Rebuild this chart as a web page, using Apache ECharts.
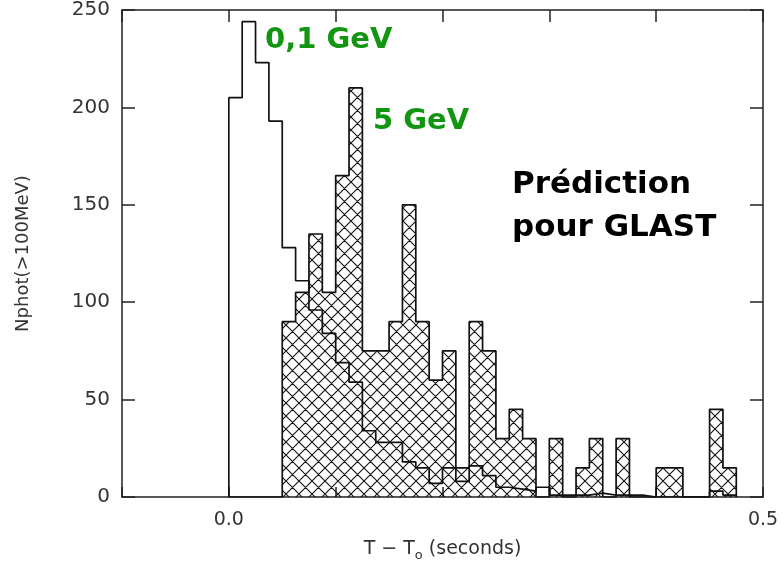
<!DOCTYPE html>
<html>
<head>
<meta charset="utf-8">
<script src="https://cdn.jsdelivr.net/npm/echarts@6/dist/echarts.min.js"></script>
<style>
  html, body { margin: 0; padding: 0; background: #fff; }
  #main { width: 782px; height: 567px; }
</style>
</head>
<body>
<div id="main"></div>
<script>
// histogram bins (seconds)
const binStart = 0;
const binWidth = 0.0125;

// counts per bin, photons above 100 MeV
const lowEnergy = [205, 244, 223, 193, 128, 111, 96, 84, 69, 59, 34, 28, 28, 18, 15, 7, 15, 8, 16, 11,
  5, 4, 3, 5, 1, 1, 1, 2, 1, 1, 1, 0, 0, 0, 0, 0, 3, 1];          // 0,1 GeV
const highEnergy = [0, 0, 0, 0, 90, 105, 135, 105, 165, 210, 75, 75, 90, 150, 90, 60, 75, 15, 90, 75,
  30, 45, 30, 0, 30, 0, 15, 30, 0, 30, 0, 0, 15, 15, 0, 0, 45, 15]; // 5 GeV

const xTickLabels = { '0': '0.0', '0.5': '0.5' };

// outline of a histogram as a list of points
function stepPath(vals) {
    var pts = [[binStart, 0]];
    vals.forEach(function (v, i) {
        var x0 = binStart + i * binWidth;
        pts.push([x0, v], [x0 + binWidth, v]);
    });
    pts.push([binStart + vals.length * binWidth, 0]);
    return pts;
}

// cross hatch tile
function hatchTile(size) {
    var c = document.createElement('canvas');
    c.width = size; c.height = size;
    var ctx = c.getContext('2d');
    ctx.strokeStyle = '#111';
    ctx.lineWidth = 1.1;
    ctx.beginPath();
    for (var k = -1; k <= 1; k++) {
        ctx.moveTo(k * size, 0); ctx.lineTo(k * size + size, size);
        ctx.moveTo(k * size, size); ctx.lineTo(k * size + size, 0);
    }
    ctx.stroke();
    return c;
}

var labelFont = '"DejaVu Sans", sans-serif';
var frameLine = { onZero: false, lineStyle: { color: '#222', width: 1.5 } };
var tickStyle = { color: '#222', width: 1.5 };

var myChart = echarts.init(document.getElementById('main'));
myChart.setOption({
    animation: false,
    backgroundColor: '#fff',
    grid: { left: 122, right: 19, top: 10, bottom: 65 },
    xAxis: [{
        type: 'value', min: -0.1, max: 0.5, interval: 0.1,
        position: 'bottom',
        axisLine: frameLine,
        axisTick: { inside: true, length: 10, lineStyle: tickStyle },
        splitLine: { show: false },
        axisLabel: {
            margin: 14, color: '#333', fontSize: 19, fontFamily: labelFont,
            formatter: function (v) {
                var key = String(Math.round(v * 10) / 10);
                return xTickLabels[key] || '';
            }
        },
        name: 'T \u2212 T{sub|o} (seconds)',
        nameLocation: 'middle', nameGap: 40,
        nameTextStyle: {
            color: '#333', fontSize: 19, fontFamily: labelFont,
            rich: { sub: { fontSize: 13, color: '#333', fontFamily: labelFont, padding: [12, 0, 0, 0] } }
        }
    }, {
        type: 'value', min: -0.1, max: 0.5, interval: 0.1,
        position: 'top',
        axisLine: frameLine,
        axisTick: { inside: true, length: 12, lineStyle: tickStyle },
        axisLabel: { show: false },
        splitLine: { show: false }
    }],
    yAxis: [{
        type: 'value', min: 0, max: 250, interval: 50,
        position: 'left',
        axisLine: { show: true, onZero: false, lineStyle: { color: '#222', width: 1.5 } },
        axisTick: { show: true, inside: true, length: 13, lineStyle: tickStyle },
        splitLine: { show: false },
        axisLabel: { margin: 12, color: '#333', fontSize: 20, fontFamily: labelFont },
        name: 'Nphot(>100MeV)',
        nameLocation: 'middle', nameGap: 90,
        nameTextStyle: { color: '#333', fontSize: 18, fontFamily: labelFont }
    }, {
        type: 'value', min: 0, max: 250, interval: 50,
        position: 'right',
        axisLine: { show: true, onZero: false, lineStyle: { color: '#222', width: 1.5 } },
        axisTick: { show: true, inside: true, length: 13, lineStyle: tickStyle },
        axisLabel: { show: false },
        splitLine: { show: false }
    }],
    series: [{
        name: '5 GeV',
        type: 'line',
        data: stepPath(highEnergy),
        symbol: 'none',
        lineStyle: { color: '#111', width: 1.7 },
        areaStyle: { color: { image: hatchTile(13), repeat: 'repeat' }, opacity: 1 },
        z: 2
    }, {
        name: '0,1 GeV',
        type: 'line',
        data: stepPath(lowEnergy),
        symbol: 'none',
        lineStyle: { color: '#111', width: 1.7 },
        z: 3
    }],
    graphic: [
        { type: 'text', left: 265, top: 26, style: { text: '0,1 GeV', font: 'bold 29px "DejaVu Sans"', fill: '#129612' } },
        { type: 'text', left: 373, top: 107, style: { text: '5 GeV', font: 'bold 29px "DejaVu Sans"', fill: '#129612' } },
        { type: 'text', left: 512, top: 169, style: { text: 'Prédiction', font: 'bold 31px "DejaVu Sans"', fill: '#000' } },
        { type: 'text', left: 512, top: 212, style: { text: 'pour GLAST', font: 'bold 31px "DejaVu Sans"', fill: '#000' } }
    ]
});
</script>
</body>
</html>
